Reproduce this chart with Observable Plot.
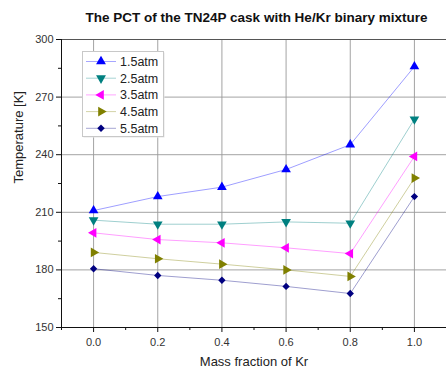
<!DOCTYPE html>
<html>
<head>
<meta charset="utf-8">
<script src="https://cdn.jsdelivr.net/npm/d3@7"></script>
<script src="https://cdn.jsdelivr.net/npm/@observablehq/plot@0.6"></script>
<style>
  html, body { margin: 0; padding: 0; background: #fff; }
  #chart { position: relative; width: 446px; height: 367px; font-family: "Liberation Sans", Arial, sans-serif; }
  #title { position: absolute; left: 64px; width: 385px; top: 10px; text-align: center; font-weight: bold; font-size: 13.5px; color: #111; }
  #legend { position: absolute; left: 82px; top: 51px; }
</style>
</head>
<body>
<div id="chart">
  <div id="title">The PCT of the TN24P cask with He/Kr binary mixture</div>
</div>
<script>
// Mass fraction of krypton in the He/Kr fill gas
const fractions = [0.0, 0.2, 0.4, 0.6, 0.8, 1.0];
// Fill pressures
const pressures = ["1.5atm", "2.5atm", "3.5atm", "4.5atm", "5.5atm"];
// Peak cladding temperature [K] for each pressure
const temp15 = [210.9, 218.2, 223.1, 232.3, 245.2, 285.9];
const temp25 = [205.9, 203.8, 203.8, 205.0, 204.3, 258.5];
const temp35 = [199.3, 195.8, 194.1, 191.5, 188.5, 239.1];
const temp45 = [189.1, 185.8, 183.0, 180.0, 176.6, 227.8];
const temp55 = [180.6, 177.1, 174.6, 171.4, 167.7, 218.2];
// Axis ticks
const xTicks = [0.0, 0.2, 0.4, 0.6, 0.8, 1.0];
const xMinor = [-0.1, 0.1, 0.3, 0.5, 0.7, 0.9, 1.1];
const yTicks = [150, 180, 210, 240, 270, 300];
const yMinor = [165, 195, 225, 255, 285];

const markColors = ["#0000ff", "#008080", "#ff00ff", "#808000", "#000080"];
const symbols = ["triangle", "triangle", "triangle", "triangle", "diamond2"];
const rotations = [0, 180, -90, 90, 0];

const temps = [temp15, temp25, temp35, temp45, temp55];
const rows = [];
pressures.forEach((p, i) => {
  fractions.forEach((f, j) => rows.push({pressure: p, fraction: f, temp: temps[i][j]}));
});

const plot = Plot.plot({
  width: 446,
  height: 367,
  marginLeft: 61,
  marginRight: 0,
  marginTop: 39,
  marginBottom: 40,
  style: {fontFamily: "Liberation Sans, Arial, sans-serif", fontSize: "11px", color: "#333"},
  x: {domain: [-0.1, 1.1]},
  y: {domain: [150, 300]},
  color: {domain: pressures, range: markColors},
  marks: [
    Plot.gridX(xTicks, {stroke: "#999", strokeOpacity: 0.9}),
    Plot.gridY(yTicks, {stroke: "#999", strokeOpacity: 0.9}),
    Plot.ruleY([300], {stroke: "#555"}),
    Plot.ruleY([150], {stroke: "#111"}),
    Plot.ruleX([-0.1], {stroke: "#111"}),
    Plot.axisX(xTicks, {tickSize: 5, tickPadding: 6, tickFormat: d3.format(".1f"), fontSize: 11, label: null, stroke: "#111"}),
    Plot.axisX(xMinor, {tickSize: 3, tickFormat: () => "", label: null, stroke: "#111"}),
    Plot.axisY(yTicks, {tickSize: 5, tickPadding: 3, fontSize: 11, label: null, stroke: "#111"}),
    Plot.axisY(yMinor, {tickSize: 3, tickFormat: () => "", label: null, stroke: "#111"}),
    Plot.text(["Mass fraction of Kr"], {frameAnchor: "bottom", dy: 38, fontSize: 13, fill: "#222"}),
    Plot.text(["Temperature [K]"], {frameAnchor: "left", dx: -43, rotate: -90, fontSize: 13, fill: "#222"}),
    Plot.line(rows, {x: "fraction", y: "temp", z: "pressure", stroke: "pressure", strokeWidth: 1, strokeOpacity: 0.38}),
    ...pressures.map((p, i) => Plot.dot(rows.filter(d => d.pressure === p), {
      x: "fraction", y: "temp", fill: "pressure", symbol: () => symbols[i], rotate: rotations[i],
      r: i === 4 ? 3.3 : 3.6, stroke: "none"
    }))
  ]
});
document.getElementById("chart").appendChild(plot);

// Legend box drawn with d3 symbols in matching colours
const lw = 81, lh = 85;
const legend = d3.create("svg").attr("width", lw + 3).attr("height", lh + 3);
legend.append("rect").attr("x", 1.5).attr("y", 1.5).attr("width", lw).attr("height", lh).attr("fill", "#e6e6e6");
legend.append("rect").attr("x", 0.5).attr("y", 0.5).attr("width", lw).attr("height", lh).attr("fill", "#fff").attr("stroke", "#c8c8c8");
const symbolMap = {triangle: d3.symbolTriangle, diamond2: d3.symbolDiamond2};
pressures.forEach((p, i) => {
  const cy = 10.5 + i * 16.7;
  const g = legend.append("g");
  g.append("line").attr("x1", 4).attr("x2", 34).attr("y1", cy).attr("y2", cy)
    .attr("stroke", markColors[i]).attr("stroke-opacity", 0.35);
  g.append("path")
    .attr("d", d3.symbol(symbolMap[symbols[i]], i === 4 ? 36 : 42)())
    .attr("transform", `translate(19,${cy}) rotate(${rotations[i]})`)
    .attr("fill", markColors[i]);
  g.append("text").attr("x", 38).attr("y", cy).attr("dy", "0.35em")
    .attr("font-size", 12.5).attr("fill", "#222").text(p);
});
const ld = document.createElement("div");
ld.id = "legend";
ld.appendChild(legend.node());
document.getElementById("chart").appendChild(ld);
</script>
</body>
</html>
